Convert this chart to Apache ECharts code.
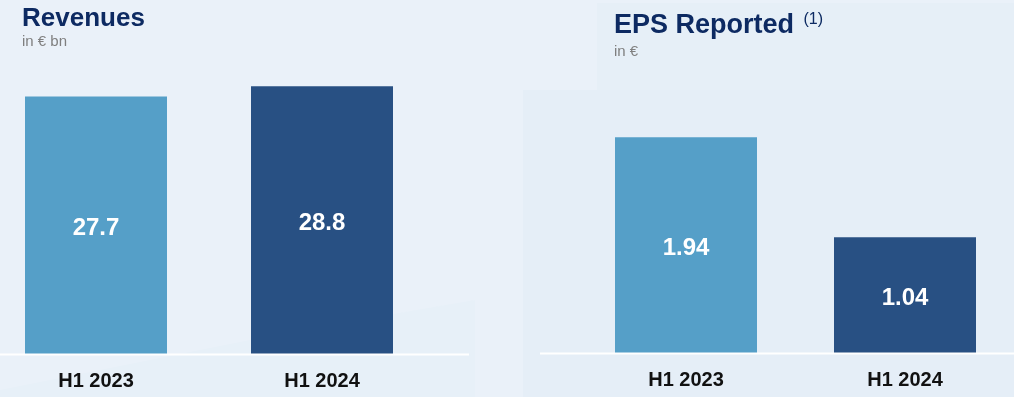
<!DOCTYPE html>
<html><head><meta charset="utf-8">
<script src="https://cdn.jsdelivr.net/npm/echarts@6/dist/echarts.min.js"></script>
<style>html,body{margin:0;padding:0;background:#eaf1f9}#c{width:1014px;height:397px}</style>
</head><body><div id="c"></div>
<script>
const categories = ['H1 2023', 'H1 2024'];
const revenues = [27.7, 28.8];
const eps = [1.94, 1.04];
const barColors = ['#559fc8', '#285083'];

const chart = echarts.init(document.getElementById('c'), null, {renderer: 'canvas'});
const labelStyle = {show: true, position: 'inside', offset:[0,3], color: '#fff', fontFamily: 'Liberation Sans, Arial, sans-serif', fontWeight: 'bold', fontSize: 24};
const axisLabelStyle = {color: '#111', fontFamily: 'Liberation Sans, Arial, sans-serif', fontWeight: 'bold', fontSize: 20, margin: 17, verticalAlign: 'top'};
function mkData(vals){ return vals.map((v,i)=>({value:v, itemStyle:{color:barColors[i]}})); }

chart.setOption({
  backgroundColor: '#eaf1f9',
  animation: false,
  graphic: [
    {type:'rect', shape:{x:523,y:90,width:491,height:307}, style:{fill:'#e5eef7'}, z:-10},
    {type:'rect', shape:{x:597,y:3,width:417,height:87}, style:{fill:'#e6eff7'}, z:-10},
    {type:'polygon', shape:{points:[[0,390],[300,330],[475,300],[475,397],[0,397]]}, style:{fill:'#e7f0f8'}, z:-10},
    {type:'line', shape:{x1:0,y1:354.5,x2:469,y2:354.5}, style:{stroke:'#ffffff', lineWidth:2}, z:5},
    {type:'line', shape:{x1:540,y1:353.5,x2:1014,y2:353.5}, style:{stroke:'#ffffff', lineWidth:2}, z:5}
  ],
  title: [
    {text:'Revenues', subtext:'in € bn', left:22, top:6,
     textStyle:{color:'#0d2a62', fontFamily:'Liberation Sans, Arial, sans-serif', fontWeight:'bold', fontSize:26},
     subtextStyle:{color:'#7f7f7f', fontFamily:'Liberation Sans, Arial, sans-serif', fontSize:15}, itemGap:2, padding:0},
    {text:'EPS Reported {s|(1)}', subtext:'in €', left:614, top:12,
     textStyle:{color:'#0d2a62', fontFamily:'Liberation Sans, Arial, sans-serif', fontWeight:'bold', fontSize:27,
       rich:{s:{fontSize:16, fontWeight:'normal', color:'#0d2a62', verticalAlign:'top', padding:[0,0,10,2]}}},
     subtextStyle:{color:'#7f7f7f', fontFamily:'Liberation Sans, Arial, sans-serif', fontSize:15}, itemGap:5, padding:0}
  ],
  grid: [
    {left:96, width:226, top:75, bottom:43},
    {left:686, width:219, top:75, bottom:44}
  ],
  xAxis: [
    {type:'category', gridIndex:0, data:categories, boundaryGap:false, axisLine:{show:false}, axisTick:{show:false}, axisLabel:axisLabelStyle},
    {type:'category', gridIndex:1, data:categories, boundaryGap:false, axisLine:{show:false}, axisTick:{show:false}, axisLabel:axisLabelStyle}
  ],
  yAxis: [
    {type:'value', gridIndex:0, min:0, max:30, show:false},
    {type:'value', gridIndex:1, min:0, max:2.5, show:false}
  ],
  series: [
    {type:'bar', xAxisIndex:0, yAxisIndex:0, data:mkData(revenues), barWidth:142, clip:false, label:{...labelStyle}},
    {type:'bar', xAxisIndex:1, yAxisIndex:1, data:mkData(eps), barWidth:142, clip:false, label:{...labelStyle}}
  ]
});
</script></body></html>
